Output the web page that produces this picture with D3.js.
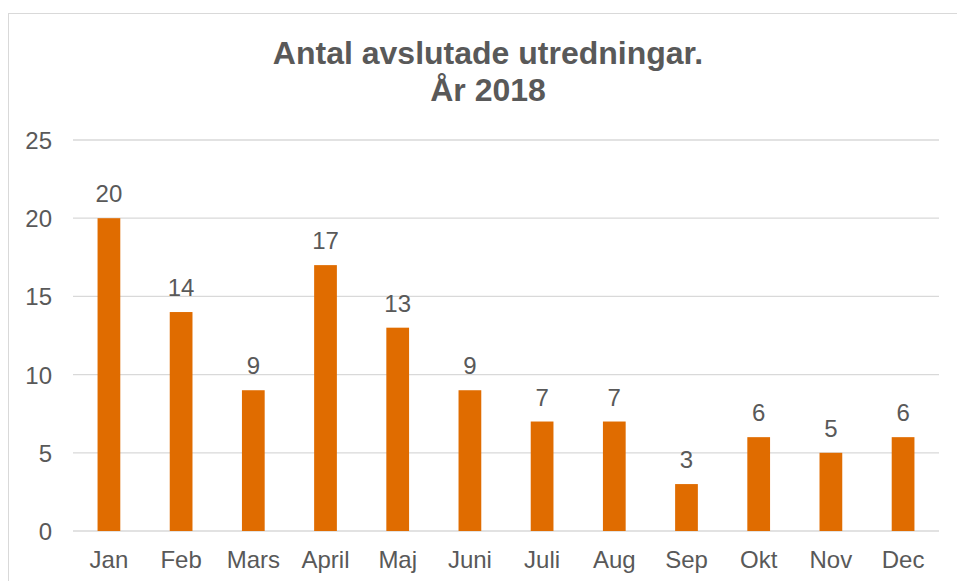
<!DOCTYPE html>
<html>
<head>
<meta charset="utf-8">
<script src="https://d3js.org/d3.v7.min.js"></script>
<style>
  body { margin: 0; background: #fff; }
  text { font-family: "Liberation Sans", Arial, sans-serif; fill: #595959; }
</style>
</head>
<body>
<div id="chart"></div>
<script>
const months = ["Jan", "Feb", "Mars", "April", "Maj", "Juni", "Juli", "Aug", "Sep", "Okt", "Nov", "Dec"];
const counts = [20, 14, 9, 17, 13, 9, 7, 7, 3, 6, 5, 6];
const yTicks = [0, 5, 10, 15, 20, 25];

const W = 957, H = 581;
const plot = { left: 73, right: 939, top: 140, bottom: 531 };

const svg = d3.select("#chart").append("svg")
    .attr("width", W)
    .attr("height", H);

// outer chart border
svg.append("rect")
    .attr("x", 8.5).attr("y", 13.5)
    .attr("width", 1000).attr("height", 1000)
    .attr("fill", "none")
    .attr("stroke", "#d9d9d9");

const x = d3.scaleBand()
    .domain(months)
    .range([plot.left, plot.right])
    .paddingInner(0.685)
    .paddingOuter(0.34);

const y = d3.scaleLinear()
    .domain([0, 25])
    .range([plot.bottom, plot.top]);

// gridlines
svg.append("g")
    .selectAll("line")
    .data(yTicks)
    .enter().append("line")
    .attr("x1", plot.left).attr("x2", plot.right)
    .attr("y1", d => y(d)).attr("y2", d => y(d))
    .attr("stroke", "#d9d9d9")
    .attr("stroke-width", 1.3);

// y axis labels
const yAxis = svg.append("g")
    .attr("transform", `translate(${plot.left - 21},0)`)
    .call(d3.axisLeft(y).tickValues(yTicks).tickSize(0).tickPadding(0));
yAxis.select(".domain").remove();
yAxis.selectAll("text")
    .style("font-size", "24px")
    .attr("fill", "#595959")
    .attr("dy", "0.35em");

// x axis labels
const xAxis = svg.append("g")
    .attr("transform", `translate(0,${plot.bottom})`)
    .call(d3.axisBottom(x).tickSize(0).tickPadding(20));
xAxis.select(".domain").remove();
xAxis.selectAll("text")
    .style("font-size", "24px")
    .attr("fill", "#595959");

// bars
svg.append("g")
    .selectAll("rect")
    .data(counts)
    .enter().append("rect")
    .attr("x", (d, i) => x(months[i]))
    .attr("y", d => y(d))
    .attr("width", x.bandwidth())
    .attr("height", d => y(0) - y(d))
    .attr("fill", "#e06c00");

// data labels
svg.append("g")
    .selectAll("text")
    .data(counts)
    .enter().append("text")
    .attr("x", (d, i) => x(months[i]) + x.bandwidth() / 2)
    .attr("y", d => y(d) - 16)
    .attr("text-anchor", "middle")
    .style("font-size", "24px")
    .text(d => d);

// title
const title = svg.append("text")
    .attr("x", 488)
    .attr("y", 64)
    .attr("text-anchor", "middle")
    .style("font-size", "32px")
    .style("font-weight", "bold");
title.append("tspan").attr("x", 488).text("Antal avslutade utredningar.");
title.append("tspan").attr("x", 488).attr("dy", 37).text("År 2018");
</script>
</body>
</html>
